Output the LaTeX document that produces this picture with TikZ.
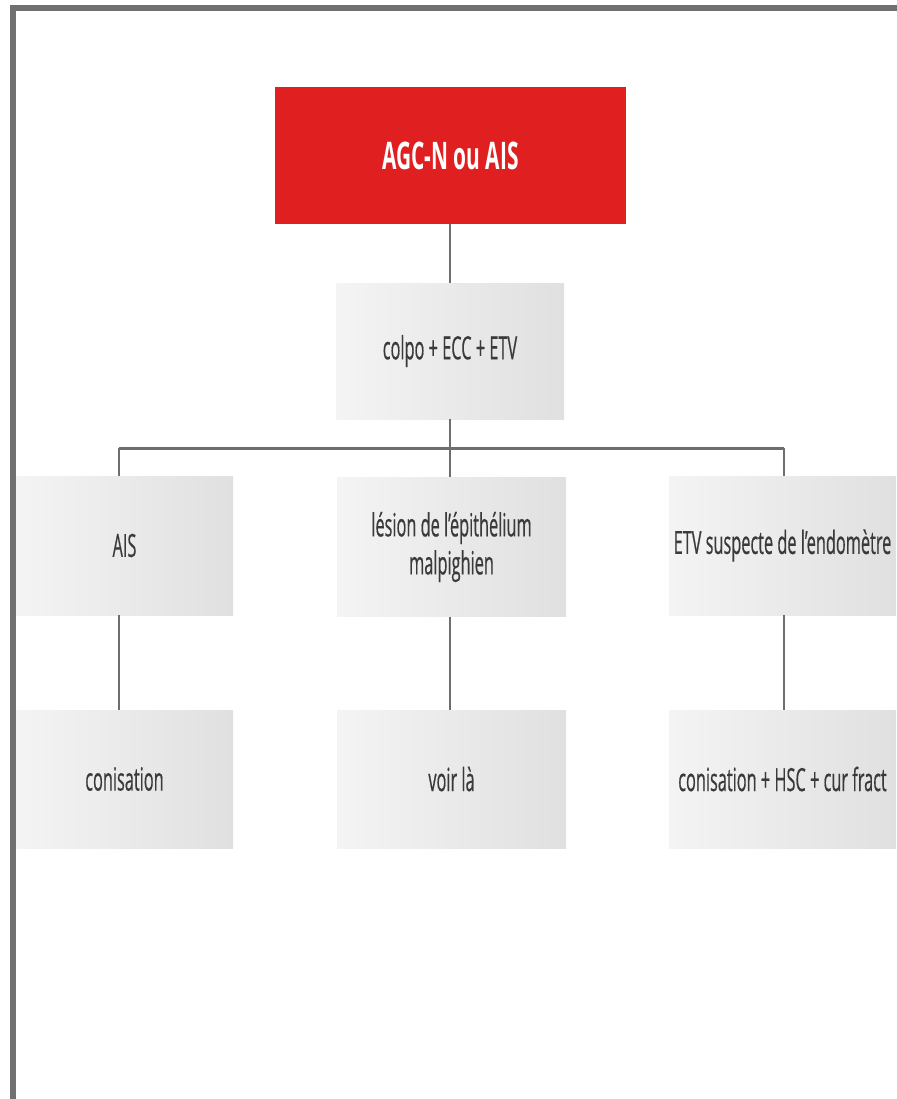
\documentclass[tikz,border=0pt]{standalone}
\usepackage{fontspec}
\newfontfamily\boxfont{Open Sans}[FakeStretch=0.51, FakeBold=0.4]
\newfontfamily\headfont{Open Sans}[FakeStretch=0.55]
\definecolor{framegray}{HTML}{707070}
\definecolor{linkgray}{HTML}{6E6E6E}
\definecolor{boxleft}{HTML}{F4F4F4}
\definecolor{boxright}{HTML}{E0E0E0}
\definecolor{headred}{HTML}{E01F20}
\definecolor{textgray}{HTML}{3A3A3A}
\tikzset{
  headbox/.style={fill=headred, draw=none, minimum width=351pt, minimum height=137pt,
    inner sep=0pt, text=white, font=\headfont\bfseries\fontsize{38}{42}\selectfont},
  stepbox/.style={left color=boxleft, right color=boxright, draw=none, inner sep=0pt,
    minimum height=138pt, text=textgray, align=center,
    font=\boxfont\fontsize{32}{38}\selectfont},
  link/.style={draw=linkgray, line width=2.2pt},
  buslink/.style={draw=linkgray, line width=3pt},
}
\begin{document}
\begin{tikzpicture}[x=1pt, y=-1pt]
  \useasboundingbox (0,0) rectangle (896,1099);
  % outer frame, running off the right and bottom edges
  \draw[framegray, line width=6pt] (13,1120) -- (13,8.5) -- (920,8.5);

  % boxes
  \node[headbox] (top) at (450.5,155.5) {AGC-N ou AIS};
  \node[stepbox, minimum width=228pt, minimum height=136pt] (colpo) at (450,351) {colpo + ECC + ETV};

  \node[stepbox, minimum width=217pt, minimum height=139pt] (ais) at (124.5,545.5) {AIS};
  \node[stepbox, minimum width=229pt, minimum height=139pt] (lesion) at (451.5,547) {lésion de l’épithélium\\malpighien};
  \node[stepbox, minimum width=227pt, minimum height=139pt] (etv) at (782.5,545.5) {ETV suspecte de l’endomètre};

  \node[stepbox, minimum width=217pt] (con) at (124.5,779) {conisation};
  \node[stepbox, minimum width=229pt] (voir) at (451.5,779) {voir là};
  \node[stepbox, minimum width=227pt] (hsc) at (782.5,779) {conisation + HSC + cur fract};

  % connectors
  \coordinate (busL) at (119,448);
  \coordinate (busM) at (450,448);
  \coordinate (busR) at (784,448);
  \draw[link] (top.south -| busM) -- (colpo.north -| busM);
  \draw[link] (colpo.south -| busM) -- (busM);
  \draw[buslink] (busL) -- (busR);
  \draw[link] (busL) -- (ais.north -| busL);
  \draw[link] (busM) -- (lesion.north -| busM);
  \draw[link] (busR) -- (etv.north -| busR);
  \draw[link] (ais.south -| busL) -- (con.north -| busL);
  \draw[link] (lesion.south -| busM) -- (voir.north -| busM);
  \draw[link] (etv.south -| busR) -- (hsc.north -| busR);
\end{tikzpicture}
\end{document}
